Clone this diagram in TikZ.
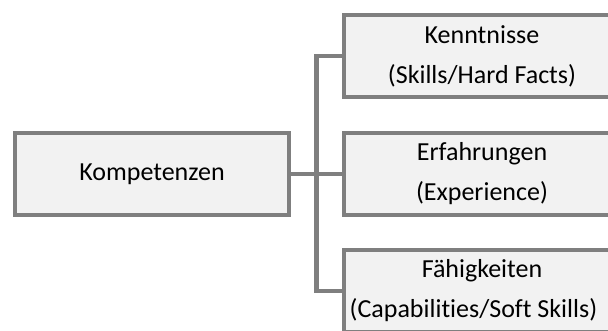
\documentclass[tikz,border=0pt]{standalone}
\usepackage{fontspec}
\setmainfont[Ligatures=NoCommon]{Carlito}
\definecolor{boxline}{HTML}{7F7F7F}
\definecolor{boxfill}{HTML}{F2F2F2}
\begin{document}
\begin{tikzpicture}[x=1pt,y=-1pt,
  box/.style={draw=boxline, fill=boxfill, line width=4.5pt, inner sep=0pt,
    minimum height=82pt, align=center,
    font=\fontsize{26}{40}\selectfont},
  rootbox/.style={box, minimum width=274pt},
  leafbox/.style={box, minimum width=276pt},
  link/.style={draw=boxline, line width=4.5pt, line join=miter}]
\useasboundingbox (0,0) rectangle (608,331);
% hierarchy: one root on the left, three leaves on the right
\node[rootbox] (root) at (152,174) {Kompetenzen};
\node[leafbox] (know) at (482,56) {Kenntnisse\\(Skills/Hard Facts)};
\node[leafbox] (exp)  at (482,174) {Erfahrungen\\(Experience)};
\node[leafbox] (cap)  at (482,291) {Fähigkeiten\\\hspace*{-17pt}(Capabilities/Soft Skills)};
% bracket connector
\coordinate (trunk) at (316.5,0);
\draw[link] (know.west) -- (know.west -| trunk) -- (cap.west -| trunk) -- (cap.west);
\draw[link] (root.east) -- (exp.west);
\end{tikzpicture}
\end{document}
